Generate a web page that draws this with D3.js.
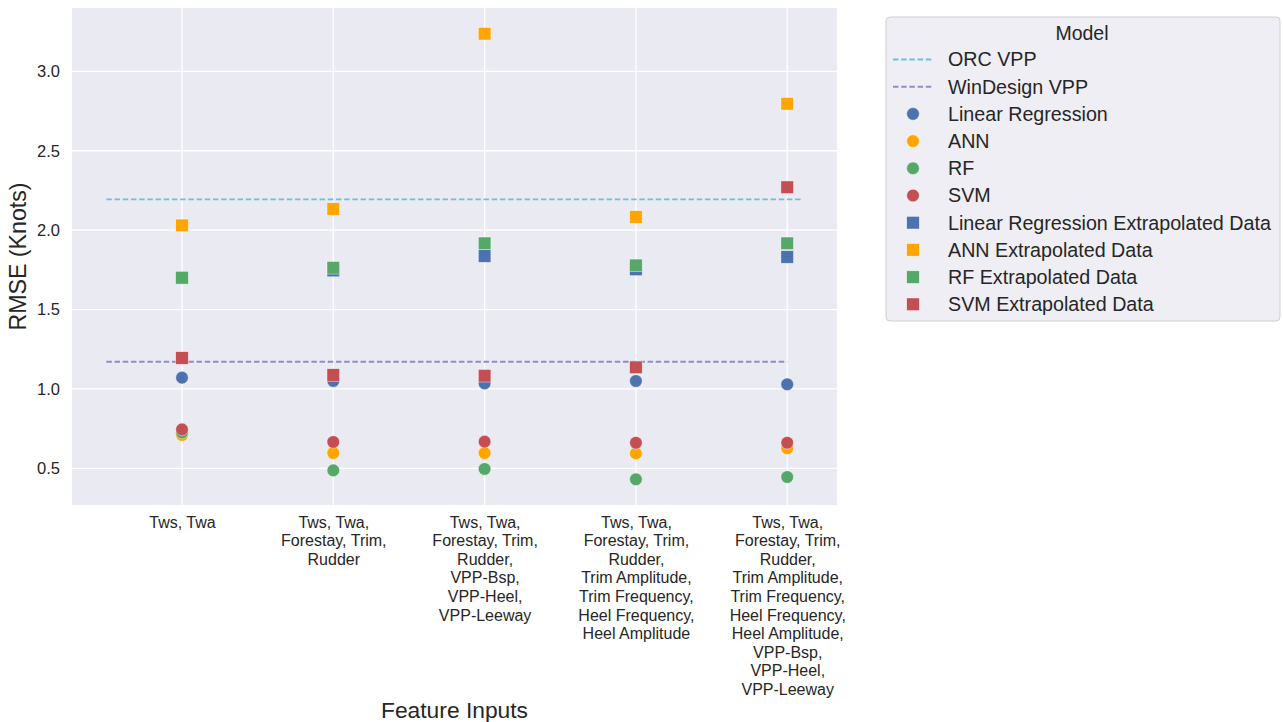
<!DOCTYPE html>
<html>
<head>
<meta charset="utf-8">
<script src="https://cdn.jsdelivr.net/npm/d3@7"></script>
<style>
  html, body { margin: 0; padding: 0; background: #ffffff; }
  svg { display: block; font-family: "Liberation Sans", Arial, Helvetica, sans-serif; }
</style>
</head>
<body>
<svg id="chart" width="1283" height="722"></svg>
<script>
// Feature-set categories (x axis), one line per row of the tick label
const categories = [
  "Tws, Twa",
  "Tws, Twa,\nForestay, Trim,\nRudder",
  "Tws, Twa,\nForestay, Trim,\nRudder,\nVPP-Bsp,\nVPP-Heel,\nVPP-Leeway",
  "Tws, Twa,\nForestay, Trim,\nRudder,\nTrim Amplitude,\nTrim Frequency,\nHeel Frequency,\nHeel Amplitude",
  "Tws, Twa,\nForestay, Trim,\nRudder,\nTrim Amplitude,\nTrim Frequency,\nHeel Frequency,\nHeel Amplitude,\nVPP-Bsp,\nVPP-Heel,\nVPP-Leeway"
];

// RMSE (knots) per model
const linearRegression    = [1.071, 1.050, 1.035, 1.050, 1.029];
const ann                 = [0.710, 0.596, 0.596, 0.594, 0.626];
const rf                  = [0.725, 0.487, 0.496, 0.431, 0.445];
const svm                 = [0.745, 0.666, 0.668, 0.661, 0.661];
const linearRegressionExt = [1.700, 1.746, 1.837, 1.753, 1.831];
const annExt              = [2.030, 2.133, 3.237, 2.083, 2.796];
const rfExt               = [1.700, 1.763, 1.917, 1.778, 1.917];
const svmExt              = [1.195, 1.088, 1.083, 1.136, 2.270];

// VPP reference levels and their extent along the category axis
const orcVpp = 2.194;
const winDesignVpp = 1.171;
const orcSpan = [-0.5, 4.1];
const winDesignSpan = [-0.5, 4.0];

const yTicks = [0.5, 1.0, 1.5, 2.0, 2.5, 3.0];

const svg = d3.select("#chart");
const ink = "#262626";
const fontStack = "'Liberation Sans', Arial, Helvetica, sans-serif";

const plot = { left: 72, right: 837, top: 8, bottom: 505 };

const x = d3.scaleLinear().domain([-0.727, 4.329]).range([plot.left, plot.right]);
const y = d3.scaleLinear().domain([0.269, 3.399]).range([plot.bottom, plot.top]);

// Background panel
svg.append("rect")
  .attr("x", plot.left).attr("y", plot.top)
  .attr("width", plot.right - plot.left).attr("height", plot.bottom - plot.top)
  .attr("fill", "#eaeaf2");

// Grid
const grid = svg.append("g");
grid.selectAll("line.h").data(yTicks).join("line")
  .attr("x1", plot.left).attr("x2", plot.right)
  .attr("y1", d => y(d)).attr("y2", d => y(d))
  .attr("stroke", "#ffffff").attr("stroke-width", 1.3);
grid.selectAll("line.v").data(categories.map((c, i) => i)).join("line")
  .attr("x1", d => x(d)).attr("x2", d => x(d))
  .attr("y1", plot.top).attr("y2", plot.bottom)
  .attr("stroke", "#ffffff").attr("stroke-width", 1.3);

// Y axis
const yAxis = svg.append("g")
  .attr("transform", `translate(${plot.left},0)`)
  .call(d3.axisLeft(y).tickValues(yTicks).tickFormat(d3.format(".1f")).tickSize(0).tickPadding(12));
yAxis.attr("font-family", fontStack).attr("font-size", 16.5);
yAxis.select(".domain").remove();
yAxis.selectAll("text").attr("fill", ink);

// X axis with multi-line labels
const xAxis = svg.append("g")
  .attr("transform", `translate(0,${plot.bottom})`)
  .call(d3.axisBottom(x).tickValues(categories.map((c, i) => i)).tickSize(0).tickFormat(""));
xAxis.attr("font-family", fontStack).attr("font-size", 16);
xAxis.select(".domain").remove();
xAxis.selectAll(".tick").each(function (d) {
  const t = d3.select(this).append("text")
    .attr("fill", ink)
    .attr("text-anchor", "middle");
  categories[d].split("\n").forEach((line, k) => {
    t.append("tspan").attr("x", 0).attr("y", 22.5 + k * 18.6).text(line);
  });
});

// Axis titles
svg.append("text")
  .attr("x", (plot.left + plot.right) / 2).attr("y", 717.5)
  .attr("text-anchor", "middle").attr("font-size", 22.8).attr("fill", ink)
  .text("Feature Inputs");
svg.append("text")
  .attr("transform", `translate(26,${(plot.top + plot.bottom) / 2}) rotate(-90)`)
  .attr("text-anchor", "middle").attr("font-size", 23.2).attr("fill", ink)
  .text("RMSE (Knots)");

// Reference lines
const refLines = [
  { name: "ORC VPP", value: orcVpp, span: orcSpan, color: "#6fc0d6" },
  { name: "WinDesign VPP", value: winDesignVpp, span: winDesignSpan, color: "#9689c6" }
];
svg.append("g").selectAll("line").data(refLines).join("line")
  .attr("x1", d => x(d.span[0])).attr("x2", d => x(d.span[1]))
  .attr("y1", d => y(d.value)).attr("y2", d => y(d.value))
  .attr("stroke", d => d.color).attr("stroke-width", 1.9)
  .attr("stroke-dasharray", "5.5,2.7");

// Scatter series
const series = [
  { name: "Linear Regression", values: linearRegression, color: "#4c72b0", shape: "circle" },
  { name: "ANN", values: ann, color: "#ffa500", shape: "circle" },
  { name: "RF", values: rf, color: "#55a868", shape: "circle" },
  { name: "SVM", values: svm, color: "#c44e52", shape: "circle" },
  { name: "Linear Regression Extrapolated Data", values: linearRegressionExt, color: "#4c72b0", shape: "square" },
  { name: "ANN Extrapolated Data", values: annExt, color: "#ffa500", shape: "square" },
  { name: "RF Extrapolated Data", values: rfExt, color: "#55a868", shape: "square" },
  { name: "SVM Extrapolated Data", values: svmExt, color: "#c44e52", shape: "square" }
];

const circleR = 6.3;
const squareS = 12.6;

function drawMarker(g, shape, color, cx, cy) {
  if (shape === "circle") {
    g.append("circle").attr("cx", cx).attr("cy", cy).attr("r", circleR)
      .attr("fill", color).attr("stroke", "#ffffff").attr("stroke-width", 0.6).attr("stroke-opacity", 0.7);
  } else {
    g.append("rect").attr("x", cx - squareS / 2).attr("y", cy - squareS / 2)
      .attr("width", squareS).attr("height", squareS)
      .attr("fill", color).attr("stroke", "#ffffff").attr("stroke-width", 0.6).attr("stroke-opacity", 0.7);
  }
}

const marks = svg.append("g");
series.forEach(s => {
  const g = marks.append("g").attr("class", "series");
  s.values.forEach((v, i) => drawMarker(g, s.shape, s.color, x(i), y(v)));
});

// Legend
const legend = svg.append("g").attr("transform", "translate(886,17)");
legend.append("rect")
  .attr("x", 0).attr("y", 0).attr("width", 394).attr("height", 304)
  .attr("rx", 4).attr("ry", 4)
  .attr("fill", "#eeeef4").attr("stroke", "#d0d0d0").attr("stroke-width", 1);
legend.append("text")
  .attr("x", 196).attr("y", 23).attr("text-anchor", "middle")
  .attr("font-size", 19.5).attr("fill", ink).text("Model");

const rowY0 = 42.5;
const rowStep = 27.2;
const entries = refLines.map(d => ({ kind: "line", ...d })).concat(series.map(d => ({ kind: d.shape, ...d })));
entries.forEach((e, k) => {
  const cy = rowY0 + k * rowStep;
  const row = legend.append("g");
  if (e.kind === "line") {
    row.append("line").attr("x1", 7).attr("x2", 46).attr("y1", cy).attr("y2", cy)
      .attr("stroke", e.color).attr("stroke-width", 1.9)
      .attr("stroke-dasharray", "5.5,2.7");
  } else {
    drawMarker(row, e.kind, e.color, 27, cy);
  }
  row.append("text").attr("x", 62).attr("y", cy + 6.8)
    .attr("font-size", 19.7).attr("fill", ink).text(e.name);
});
</script>
</body>
</html>
